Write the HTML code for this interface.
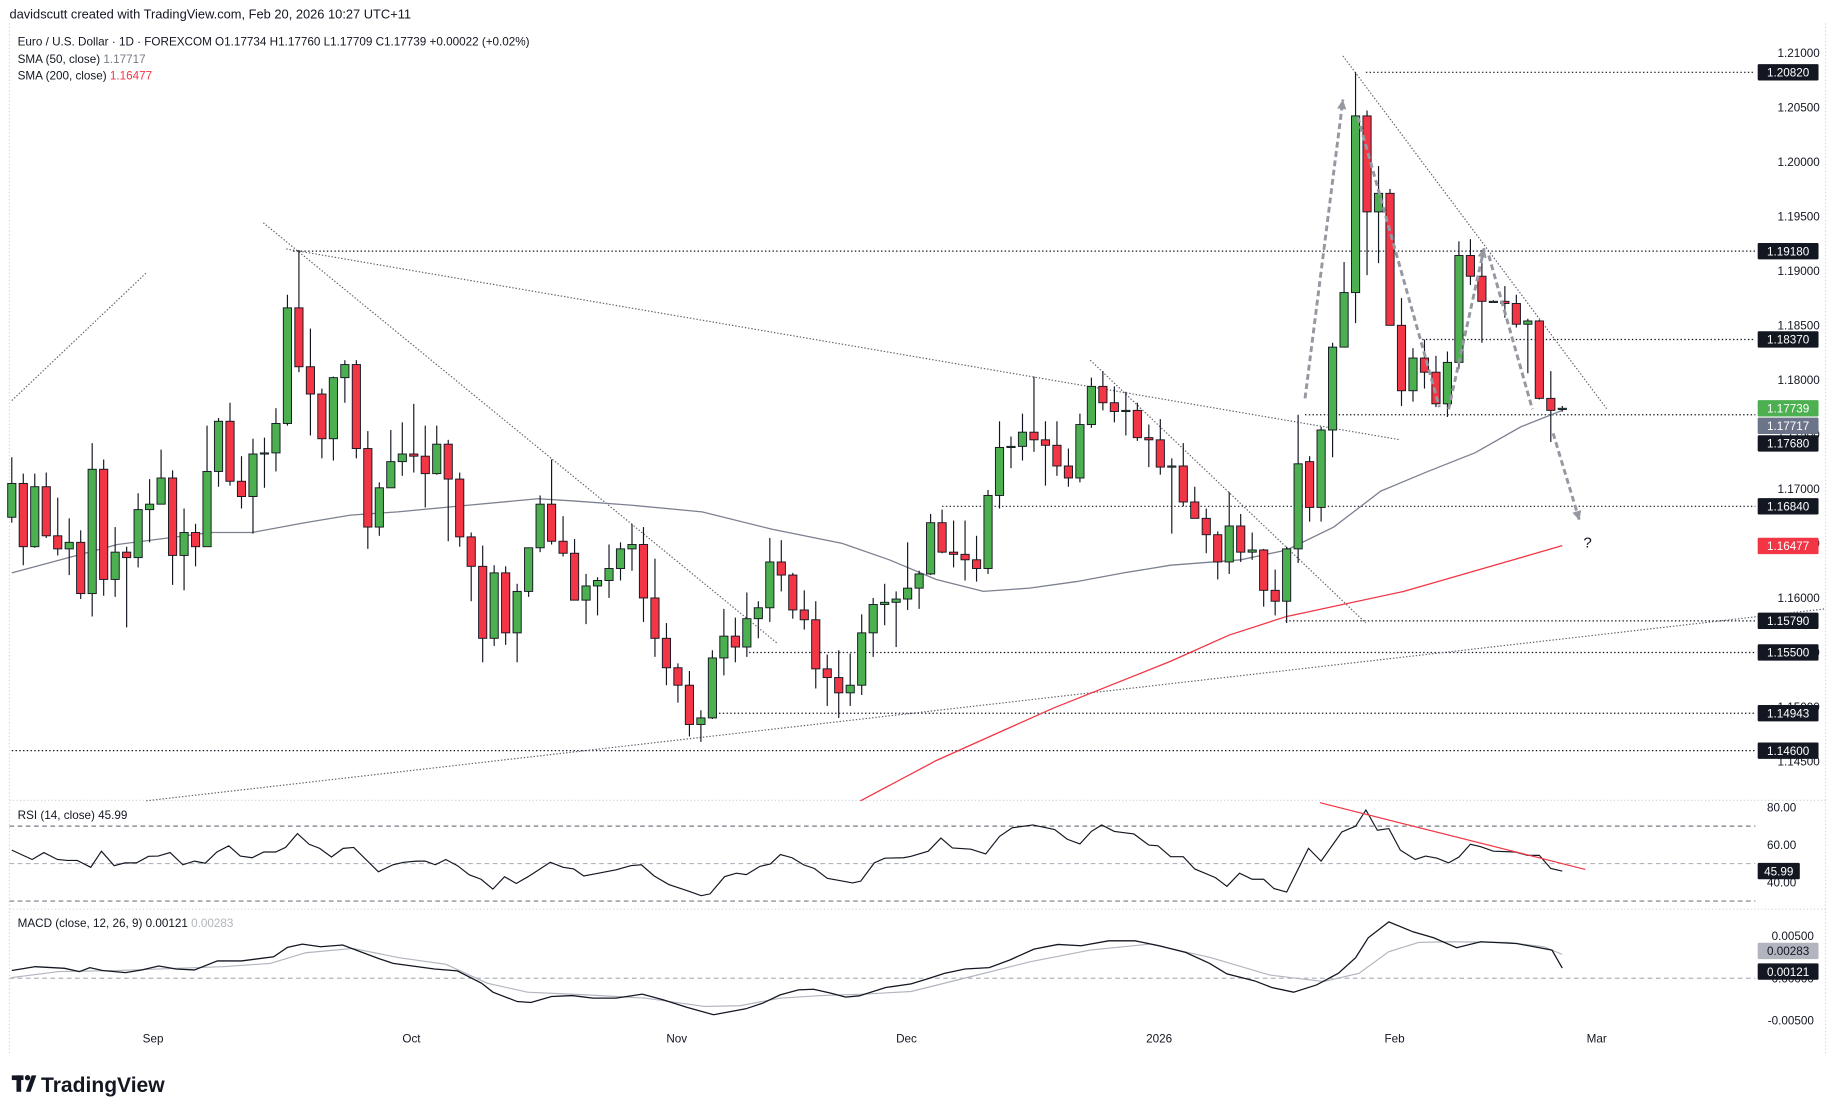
<!DOCTYPE html>
<html><head><meta charset="utf-8"><style>
html,body{margin:0;padding:0;background:#fff;}
svg{display:block;font-family:"Liberation Sans",sans-serif;}
</style></head><body>
<svg id="chart" width="1835" height="1114" viewBox="0 0 1568 952" xmlns="http://www.w3.org/2000/svg">
<rect width="1568" height="952" fill="#fff"/>
<text x="8" y="16" font-size="11" fill="#131722">davidscutt created with TradingView.com, Feb 20, 2026 10:27 UTC+11</text>
<text x="15" y="39" font-size="10" fill="#131722">Euro / U.S. Dollar · 1D · FOREXCOM  O1.17734  H1.17760  L1.17709  C1.17739  +0.00022 (+0.02%)</text>
<text x="15" y="54" font-size="10" fill="#131722">SMA (50, close) <tspan fill="#787b86">1.17717</tspan></text>
<text x="15" y="68" font-size="10" fill="#131722">SMA (200, close) <tspan fill="#f23645">1.16477</tspan></text>
<text x="15" y="700" font-size="10" fill="#131722">RSI (14, close) 45.99</text>
<text x="15" y="792" font-size="10" fill="#131722">MACD (close, 12, 26, 9) 0.00121 <tspan fill="#b2b5be">0.00283</tspan></text>
<g id="lines"></g>
<g id="marks"></g>
<g id="axis"></g>
<g>
<rect x="10" y="919" width="10" height="4" fill="#131722"/>
<rect x="14" y="919" width="4" height="14" fill="#131722"/>
<circle cx="23.5" cy="921" r="2.3" fill="#131722"/>
<polygon points="22,933 27,919 31,919 26,933" fill="#131722"/>
<text x="35" y="933" font-size="18" font-weight="bold" fill="#131722">TradingView</text>
</g>
</svg>
<script>
const opens=[1.1674,1.1705,1.1647,1.1702,1.1657,1.1645,1.1651,1.1604,1.1718,1.1617,1.1642,1.1637,1.1681,1.1686,1.1710,1.1639,1.1660,1.1647,1.1716,1.1762,1.1707,1.1693,1.1732,1.1733,1.1760,1.1866,1.1812,1.1787,1.1746,1.1802,1.1814,1.1737,1.1665,1.1701,1.1725,1.1732,1.1730,1.1714,1.1741,1.1709,1.1656,1.1629,1.1563,1.1623,1.1568,1.1606,1.1646,1.1686,1.1652,1.1641,1.1598,1.1611,1.1616,1.1627,1.1645,1.1649,1.1600,1.1563,1.1536,1.1520,1.1484,1.1490,1.1545,1.1565,1.1555,1.1581,1.1591,1.1633,1.1621,1.1589,1.1580,1.1535,1.1527,1.1513,1.1520,1.1568,1.1594,1.1596,1.1599,1.1609,1.1622,1.1669,1.1642,1.1640,1.1635,1.1627,1.1694,1.1738,1.1739,1.1752,1.1745,1.1740,1.1721,1.1710,1.1759,1.1794,1.1779,1.1771,1.1772,1.1747,1.1745,1.1720,1.1721,1.1688,1.1673,1.1658,1.1633,1.1666,1.1642,1.1644,1.1607,1.1597,1.1645,1.1725,1.1683,1.1754,1.1830,1.1880,1.2042,1.1954,1.1971,1.1850,1.1790,1.1820,1.1807,1.1778,1.1816,1.1914,1.1895,1.1872,1.1872,1.1870,1.1851,1.1854,1.1783,1.17734];
const highs=[1.1729,1.1714,1.1714,1.1715,1.1692,1.1673,1.1662,1.1742,1.1727,1.1665,1.1647,1.1696,1.1709,1.1736,1.1717,1.1682,1.1668,1.1758,1.1765,1.1779,1.1730,1.1746,1.1747,1.1774,1.1878,1.1919,1.1847,1.1792,1.1803,1.1818,1.1818,1.1753,1.1706,1.1754,1.1761,1.1778,1.1758,1.1758,1.1745,1.1715,1.1660,1.1648,1.1630,1.1629,1.1613,1.1646,1.1694,1.1727,1.1675,1.1654,1.1622,1.1619,1.1649,1.1651,1.1668,1.1665,1.1636,1.1577,1.1540,1.1533,1.1497,1.1552,1.1590,1.1582,1.1605,1.1597,1.1655,1.1653,1.1623,1.1607,1.1597,1.1548,1.1552,1.1549,1.1585,1.1600,1.1613,1.1606,1.1651,1.1625,1.1677,1.1681,1.1671,1.1671,1.1657,1.1699,1.1762,1.1748,1.1769,1.1803,1.1762,1.1762,1.1737,1.1769,1.1802,1.1808,1.1794,1.1789,1.1779,1.1759,1.1764,1.1728,1.1742,1.1702,1.1682,1.1661,1.1697,1.1677,1.1660,1.1645,1.1626,1.1647,1.1768,1.1730,1.1757,1.1834,1.1908,1.2082,1.2047,1.1996,1.1975,1.1875,1.1829,1.1837,1.1822,1.1826,1.1927,1.1929,1.1919,1.1873,1.1886,1.1878,1.1856,1.1855,1.1808,1.1776];
const lows=[1.1669,1.1630,1.1646,1.1655,1.1639,1.1621,1.1599,1.1583,1.1602,1.1601,1.1573,1.1628,1.1651,1.1686,1.1612,1.1607,1.1629,1.1647,1.1702,1.1703,1.1682,1.1659,1.1701,1.1716,1.1758,1.1807,1.1749,1.1728,1.1726,1.1779,1.1728,1.1645,1.1657,1.1701,1.1712,1.1715,1.1683,1.1713,1.1652,1.1647,1.1597,1.1541,1.1556,1.1557,1.1541,1.1601,1.1642,1.1649,1.1638,1.1598,1.1576,1.1584,1.1600,1.1616,1.1625,1.1578,1.1546,1.1520,1.1504,1.1473,1.1468,1.1489,1.1529,1.1541,1.1546,1.1563,1.1578,1.1606,1.1581,1.1571,1.1517,1.1501,1.1490,1.1501,1.1511,1.1546,1.1575,1.1555,1.1589,1.1590,1.1621,1.1641,1.1628,1.1616,1.1615,1.1622,1.1682,1.1719,1.1726,1.1734,1.1703,1.1712,1.1702,1.1706,1.1756,1.1772,1.1761,1.1749,1.1744,1.1720,1.1713,1.1659,1.1684,1.1673,1.1641,1.1617,1.1622,1.1633,1.1635,1.1592,1.1584,1.1577,1.1632,1.1670,1.1670,1.1729,1.1852,1.1852,1.1896,1.1907,1.1850,1.1776,1.1780,1.1792,1.1775,1.1766,1.1810,1.1887,1.1834,1.1871,1.1857,1.1848,1.1806,1.1782,1.1743,1.17709];
const closes=[1.1705,1.1647,1.1702,1.1657,1.1645,1.1651,1.1604,1.1718,1.1617,1.1642,1.1637,1.1681,1.1686,1.1710,1.1639,1.1660,1.1647,1.1716,1.1762,1.1707,1.1693,1.1732,1.1733,1.1760,1.1866,1.1812,1.1787,1.1746,1.1802,1.1814,1.1737,1.1665,1.1701,1.1725,1.1732,1.1730,1.1714,1.1741,1.1709,1.1656,1.1629,1.1563,1.1623,1.1568,1.1606,1.1646,1.1686,1.1652,1.1641,1.1598,1.1611,1.1616,1.1627,1.1645,1.1649,1.1600,1.1563,1.1536,1.1520,1.1484,1.1490,1.1545,1.1565,1.1555,1.1581,1.1591,1.1633,1.1621,1.1589,1.1580,1.1535,1.1527,1.1513,1.1520,1.1568,1.1594,1.1596,1.1599,1.1609,1.1622,1.1669,1.1642,1.1640,1.1635,1.1627,1.1694,1.1738,1.1739,1.1752,1.1745,1.1740,1.1721,1.1710,1.1759,1.1794,1.1779,1.1771,1.1772,1.1747,1.1745,1.1720,1.1721,1.1688,1.1673,1.1658,1.1633,1.1666,1.1642,1.1644,1.1607,1.1597,1.1645,1.1723,1.1683,1.1754,1.1830,1.1880,1.2042,1.1954,1.1971,1.1850,1.1790,1.1820,1.1807,1.1778,1.1816,1.1914,1.1895,1.1872,1.1872,1.1870,1.1851,1.1854,1.1783,1.1772,1.17739];
const sma50Bars=[0,9.2,17.3,20.9,25.5,29.5,33.6,39.7,45.8,48.9,54,60.1,66.2,72.3,76.4,80.5,84.6,88.6,92.7,96.8,100.9,107,111,115.1,119.2,123.3,127.4,131.4,135];
const sma50Vals=[1.1623,1.1649,1.1660,1.1660,1.1669,1.1676,1.1679,1.1685,1.1691,1.1689,1.1685,1.1679,1.1663,1.1650,1.1635,1.1617,1.1606,1.1609,1.1615,1.1623,1.1630,1.1635,1.1644,1.1665,1.1698,1.1716,1.1733,1.1757,1.1772];
const sma200Bars=[73.9,80.5,90.7,100.9,106,111,121.2,135];
const sma200Vals=[1.1414,1.1451,1.1499,1.1542,1.1566,1.1583,1.1606,1.1648];
const rsiBars=[0,1.77,2.79,3.97,4.83,5.7,6.88,7.8,8.92,9.84,10.86,11.9,12.75,13.78,14.9,15.9,16.84,17.86,18.89,19.9,20.93,21.95,22.97,23.84,24.87,25.89,26.81,27.83,28.85,29.77,31.92,33.19,34.11,35.24,36,36.87,37.79,38.81,39.84,40.86,41.88,42.9,43.92,44.95,46.89,48.01,48.93,49.8,51.08,52.61,53.89,54.81,55.93,57.21,59,60.02,60.79,62.06,63.09,63.95,65.13,66.05,66.92,67.94,68.96,69.88,71,72.03,73.2,73.92,75.1,76.01,77.65,78.3,79.8,80.9,81.9,83.5,84.8,86,87.1,88.9,90.8,91.9,93,94,94.9,96,97.7,99,99.8,100.9,102,103,104.8,105.8,106.9,108,109,109.9,111,112.9,114,115.8,117,117.9,118.9,119.9,120.9,122.2,123.1,124.1,125.1,126,127,127.9,129,130.9,132,133,134,134.9,135];
const rsiVals=[57.2,52.2,55.9,52.2,51.7,51.7,48,56.6,48.9,50.4,50.4,53.9,54,55.9,49.4,51.3,50.2,56.2,59.5,54,53.1,56.2,56.2,58.6,66,60.3,58.1,53.5,58.1,58.6,45.6,49.4,50.7,51.3,51.3,49.4,52.2,48.9,44,41.6,36.4,43,39.4,43,50.7,48,47.1,43.4,44.9,46.7,48.9,49.4,43.4,38.8,35.1,32.9,33.8,43,44.9,44.1,48.5,49.8,54.8,53.1,49.3,47.4,42.1,41,39.7,40.6,50.4,52.9,53.1,53.9,56.6,63.6,58.4,57.7,55.1,64.5,69.1,70.6,68.2,63,60.5,67.2,70.6,67.2,65.8,59.9,59.5,53.7,53.7,47.1,42.5,37.9,44.9,41.6,41.6,36.6,34.8,58.1,51.3,66.9,70,78.6,67.8,68.7,57.2,52.2,54,52.9,50.4,53.5,60.3,59,56.6,56.2,54.4,54.4,47.4,46.1,45.99];
const macdBars=[0,2.05,4.6,5.9,6.8,7.9,9.9,11.3,12.8,14.3,15.9,17.9,20,22.8,24,25.3,26.9,28.8,31.9,33.2,36.8,38.8,40.9,41.9,44,45.2,47,48.8,50.6,52.6,54.9,56.7,58.8,61.1,63.9,65.4,66.9,68.5,69.8,71.3,72.6,73.8,76.1,78.3,79.9,81.2,83,85.1,86.9,89,91.1,93.1,95.5,97.8,99.9,102.2,104.3,105.8,108.2,109.7,111.6,113.6,115.5,117,118.1,119.9,122,123.8,125.8,127.9,131,134.1,135];
const macdVals=[0.00091,0.00138,0.00118,0.00079,0.00126,0.00091,0.00067,0.00098,0.00146,0.0011,0.00098,0.00205,0.00205,0.00256,0.00366,0.00406,0.00374,0.00394,0.00236,0.00177,0.0011,0.00087,-0.00059,-0.00165,-0.00276,-0.00287,-0.00217,-0.00205,-0.00236,-0.00236,-0.00189,-0.00256,-0.00346,-0.00433,-0.00362,-0.00295,-0.00197,-0.00138,-0.0013,-0.00177,-0.00224,-0.00209,-0.0011,-0.00067,0,0.00059,0.0011,0.00126,0.00217,0.00346,0.00402,0.00386,0.00445,0.00445,0.00386,0.00307,0.00177,0.00051,-0.00031,-0.0011,-0.00165,-0.00079,0.00059,0.00244,0.0048,0.00669,0.00551,0.0048,0.00362,0.00433,0.00413,0.00335,0.00121];
const signalBars=[0,4.1,9.2,14.3,18.4,22.5,25.6,29.7,33.7,37.8,41.4,44.9,50.1,55.2,60.3,63.4,66.9,70.5,74.1,78.3,83.5,88.7,93.9,99.1,104.3,109.5,114.2,117.3,119.9,122.5,125.1,130.3,133.4,135];
const signalVals=[0.00008,0.00079,0.00091,0.00118,0.00138,0.00177,0.00303,0.00354,0.00244,0.00165,-0.00059,-0.00165,-0.00197,-0.00236,-0.00335,-0.00327,-0.00236,-0.00205,-0.00189,-0.00157,0.0002,0.00197,0.00335,0.00406,0.00248,0.00039,-0.00039,0.00059,0.00315,0.00425,0.00433,0.00425,0.00374,0.00283];
const priceTicks=[1.21,1.205,1.2,1.195,1.19,1.185,1.18,1.175,1.17,1.165,1.16,1.155,1.15,1.145];
const dateLabels=["Sep","Oct","Nov","Dec","2026","Feb","Mar"];
const dateBars=[12.3,34.8,57.9,77.9,99.9,120.4,138];
const levelPrices=[1.2082,1.1918,1.1837,1.1768,1.1684,1.1579,1.155,1.14943,1.146];
const levelStartBars=[117.9,24.5,122.8,112.6,81,110.9,64.2,60.6,0];
const trendLines=[[0,1.1781,11.7,1.1898],[21.9,1.1944,66.7,1.1558],[23.9,1.192,120.9,1.1745],[115.9,1.2097,138.9,1.1773],[93.9,1.1818,117.9,1.1577],[11.7,1.1414,157.9,1.159]];
const arrowLines=[[112.6,1.1783,115.9,1.2057],[117.2,1.2041,124.3,1.1775],[125.1,1.1773,128.2,1.1921],[128.6,1.1914,132.4,1.1773],[134.2,1.1751,136.5,1.1671]];
const rsiTrend=[113.9,82.5,137,46.9];

const NS="http://www.w3.org/2000/svg";
const X=i=>10+i*9.815, PY=p=>45+(1.21-p)*9320, RY=v=>690+(80-v)*1.6, MY=v=>836-v*7200;
const AX=1500;
function mk(parent,tag,attrs){const e=document.createElementNS(NS,tag);for(const k in attrs)e.setAttribute(k,attrs[k]);document.getElementById(parent).appendChild(e);return e;}
function pathFrom(bars,vals,fy){return bars.map((b,i)=>(i?'L':'M')+X(b).toFixed(1)+','+fy(vals[i]).toFixed(1)).join('');}

let e;
e=mk('lines','line',{x1:8,y1:684,x2:1560,y2:684,stroke:'#d1d4dc','stroke-dasharray':'1,2'});


e=mk('lines','line',{x1:8,y1:777,x2:1560,y2:777,stroke:'#d1d4dc','stroke-dasharray':'1,2'});


e=mk('lines','line',{x1:1560,y1:20,x2:1560,y2:900,stroke:'#d1d4dc','stroke-dasharray':'1,2'});


e=mk('lines','line',{x1:8,y1:20,x2:8,y2:900,stroke:'#d1d4dc','stroke-dasharray':'1,2'});



levelPrices.forEach((p,k)=>{
 e=mk('lines','line',{x1:X(levelStartBars[k]),y1:PY(p),x2:AX,y2:PY(p),stroke:'#131722','stroke-width':1,'stroke-dasharray':'1.2,2'});
 
 
});
trendLines.forEach(t=>{
 e=mk('lines','line',{x1:X(t[0]),y1:PY(t[1]),x2:X(t[2]),y2:PY(t[3]),stroke:'#5d606b','stroke-width':1,'stroke-dasharray':'1.2,1.6'});
 
 
});
e=mk('lines','path',{d:pathFrom(sma50Bars,sma50Vals,PY),fill:'none',stroke:'#7c8090','stroke-width':1.1});


e=mk('lines','path',{d:pathFrom(sma200Bars,sma200Vals,PY),fill:'none',stroke:'#f23645','stroke-width':1.1});



closes.forEach((c,i)=>{
 const o=opens[i],x=X(i),up=c>=o;
 e=mk('marks','line',{x1:x,y1:PY(highs[i]),x2:x,y2:PY(lows[i]),stroke:'#131722','stroke-width':1});
 
 
 const t=PY(Math.max(o,c)),b=PY(Math.min(o,c));
 e=mk('marks','rect',{x:x-3.5,y:t,width:7,height:Math.max(b-t,1),fill:up?'#4caf50':'#f23645',stroke:'#131722','stroke-width':0.8});
 
 
});

arrowLines.forEach((a,k)=>{
 const x1=X(a[0]),y1=PY(a[1]),x2=X(a[2]),y2=PY(a[3]);
 e=mk('marks','line',{x1:x1,y1:y1,x2:x2,y2:y2,stroke:'#9598a1','stroke-width':2.5,'stroke-dasharray':'5,3'});
 
 
 if(k===0||k===4||k===2){
  const ang=Math.atan2(y2-y1,x2-x1),L=9;
  const p1=[x2-L*Math.cos(ang-0.45),y2-L*Math.sin(ang-0.45)],p2=[x2-L*Math.cos(ang+0.45),y2-L*Math.sin(ang+0.45)];
  e=mk('marks','polygon',{points:`${x2},${y2} ${p1} ${p2}`,fill:'#9598a1'});
  
  
 }
});
e=mk('marks','text',{x:1353,y:468,'font-size':13,fill:'#131722'});
e.textContent='?';



[70,50,30].forEach(v=>{
 e=mk('lines','line',{x1:8,y1:RY(v),x2:AX,y2:RY(v),stroke:v===50?'#b2b5be':'#787b86','stroke-dasharray':'4,3'});
 
 
});
e=mk('marks','path',{d:pathFrom(rsiBars,rsiVals,RY),fill:'none',stroke:'#131722','stroke-width':1});


e=mk('marks','line',{x1:X(rsiTrend[0]),y1:RY(rsiTrend[1]),x2:X(rsiTrend[2]),y2:RY(rsiTrend[3]),stroke:'#f23645','stroke-width':1});



e=mk('lines','line',{x1:8,y1:MY(0),x2:AX,y2:MY(0),stroke:'#b2b5be','stroke-dasharray':'4,3'});


e=mk('marks','path',{d:pathFrom(signalBars,signalVals,MY),fill:'none',stroke:'#b2b5be','stroke-width':1});


e=mk('marks','path',{d:pathFrom(macdBars,macdVals,MY),fill:'none',stroke:'#131722','stroke-width':1.1});



priceTicks.forEach(p=>{
 e=mk('axis','text',{x:1555,y:PY(p)+3.5,'font-size':10,fill:'#131722','text-anchor':'end'});
 e.textContent=p.toFixed(5);
 
 
});
[[80,'80.00'],[60,'60.00'],[40,'40.00']].forEach(t=>{
 e=mk('axis','text',{x:1535,y:RY(t[0])+3.5,'font-size':10,fill:'#131722','text-anchor':'end'});
 e.textContent=t[1];
 
 
});
[[0.005,'0.00500'],[0,'0.00000'],[-0.005,'-0.00500']].forEach(t=>{
 e=mk('axis','text',{x:1550,y:MY(t[0])+3.5,'font-size':10,fill:'#131722','text-anchor':'end'});
 e.textContent=t[1];
 
 
});
dateLabels.forEach((d,k)=>{
 e=mk('axis','text',{x:X(dateBars[k]),y:891,'font-size':10,fill:'#131722','text-anchor':'middle'});
 e.textContent=d;
 
 
});
function badge(y,txt,bg,fg,w,name){
 e=mk('axis','rect',{x:1502,y:y-7,width:w||52,height:14,fill:bg,rx:1});
 
 
 e=mk('axis','text',{x:1502+(w||52)/2,y:y+3.6,'font-size':10,fill:fg,'text-anchor':'middle'});
 e.textContent=txt;
 
 
}
levelPrices.forEach(p=>{ if(p!==1.1768) badge(PY(p),p.toFixed(5),'#131722','#fff',52,'level-price-badge'); });
badge(PY(1.17739),'1.17739','#4caf50','#fff',52,'last-price-badge');
badge(PY(1.17739)+15,'1.17717','#6c7489','#fff',52,'sma50-badge');
badge(PY(1.17739)+30,'1.17680','#131722','#fff',52,'level-price-badge');
badge(PY(1.16477),'1.16477','#f23645','#fff',52,'sma200-badge');
badge(RY(45.99),'45.99','#131722','#fff',36,'rsi-value-badge');
badge(MY(0.00283)-3,'0.00283','#b2b5be','#131722',52,'macd-signal-badge');
badge(MY(0.00121)+3,'0.00121','#131722','#fff',52,'macd-value-badge');
</script>
</body></html>
